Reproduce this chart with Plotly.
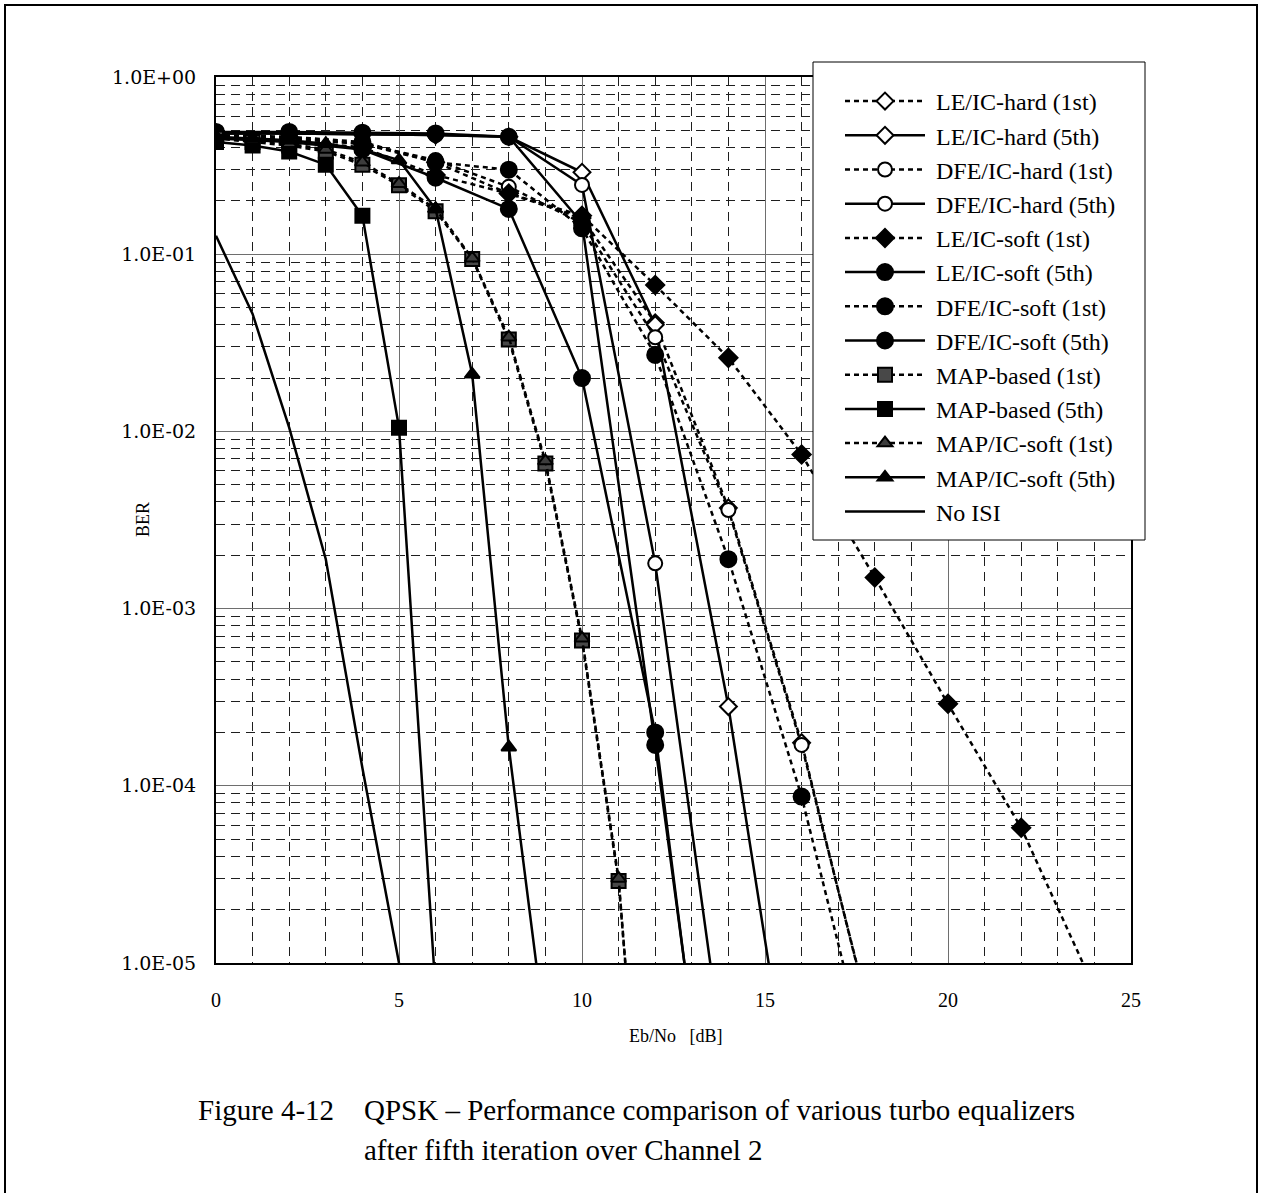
import plotly.graph_objects as go

# ---------------- BER data (QPSK, Channel 2) ----------------
# Eb/No grids in dB
eq_snr_18 = [0, 2, 4, 6, 8, 10, 12, 14, 16, 18]
eq_snr_16 = [0, 2, 4, 6, 8, 10, 12, 14, 16]
eq_snr_14 = [0, 2, 4, 6, 8, 10, 12, 14]
eq_snr_24 = [0, 2, 4, 6, 8, 10, 12, 14, 16, 18, 20, 22, 24]
map_snr_12 = [0, 1, 2, 3, 4, 5, 6, 7, 8, 9, 10, 11, 12]
map_snr_9 = [0, 1, 2, 3, 4, 5, 6, 7, 8, 9]
map_snr_6 = [0, 1, 2, 3, 4, 5, 6]
no_isi_snr = [0, 1, 2, 3, 4, 5]

le_hard_1st = [0.46, 0.45, 0.42, 0.33, 0.22, 0.16, 0.041, 0.0037, 1.75e-4, 3.8e-6]
le_hard_5th = [0.48, 0.48, 0.475, 0.47, 0.46, 0.29, 0.040, 2.8e-4, 6.5e-7]
dfe_hard_1st = [0.46, 0.45, 0.42, 0.34, 0.24, 0.15, 0.034, 0.0036, 1.7e-4, 3.9e-6]
dfe_hard_5th = [0.48, 0.48, 0.475, 0.47, 0.46, 0.246, 0.0018, 1.8e-6]
le_soft_1st = [0.46, 0.44, 0.40, 0.28, 0.22, 0.165, 0.067, 0.026, 0.0074,
               0.0015, 2.9e-4, 5.8e-5, 7.2e-6]
le_soft_5th = [0.49, 0.49, 0.485, 0.48, 0.46, 0.15, 1.7e-4, 1.4e-7]
dfe_soft_1st = [0.47, 0.46, 0.43, 0.33, 0.30, 0.14, 0.027, 0.0019, 8.7e-5, 1.9e-6]
dfe_soft_5th = [0.45, 0.43, 0.39, 0.27, 0.18, 0.020, 2.0e-4, 1.1e-7]
map_based_1st = [0.45, 0.43, 0.41, 0.38, 0.32, 0.245, 0.175, 0.094, 0.033,
                 0.0066, 6.6e-4, 2.9e-5, 8e-8]
map_based_5th = [0.43, 0.41, 0.38, 0.32, 0.165, 0.0105, 6.9e-6]
map_ic_soft_1st = [0.46, 0.44, 0.42, 0.39, 0.33, 0.25, 0.18, 0.095, 0.034,
                   0.0068, 6.8e-4, 3.0e-5, 8e-8]
map_ic_soft_5th = [0.46, 0.45, 0.44, 0.42, 0.39, 0.34, 0.18, 0.021, 1.65e-4, 3.9e-6]
no_isi = [0.127, 0.046, 0.0105, 0.0019, 1.26e-4, 1.0e-5]

# axis labelling
y_tick_vals = [1, 0.1, 0.01, 0.001, 0.0001, 0.00001]
y_tick_text = ["1.0E+00", "1.0E-01", "1.0E-02", "1.0E-03", "1.0E-04", "1.0E-05"]
x_tick_vals = [0, 5, 10, 15, 20, 25]

SERIF = "Liberation Serif, Times New Roman, serif"
DOT = "5px,4px"
PAD = "\u00a0"

# (name, x, y, dash, symbol, fill, size)
series = [
    ("LE/IC-hard (1st)", eq_snr_18, le_hard_1st, DOT, "diamond", "white", 13),
    ("LE/IC-hard (5th)", eq_snr_16, le_hard_5th, "solid", "diamond", "white", 13),
    ("DFE/IC-hard (1st)", eq_snr_18, dfe_hard_1st, DOT, "circle", "white", 14),
    ("DFE/IC-hard (5th)", eq_snr_14, dfe_hard_5th, "solid", "circle", "white", 14),
    ("LE/IC-soft (1st)", eq_snr_24, le_soft_1st, DOT, "diamond", "black", 14),
    ("LE/IC-soft (5th)", eq_snr_14, le_soft_5th, "solid", "circle", "black", 16),
    ("DFE/IC-soft (1st)", eq_snr_18, dfe_soft_1st, DOT, "circle", "black", 16),
    ("DFE/IC-soft (5th)", eq_snr_14, dfe_soft_5th, "solid", "circle", "black", 16),
    ("MAP-based (1st)", map_snr_12, map_based_1st, DOT, "square", "#484848", 14),
    ("MAP-based (5th)", map_snr_6, map_based_5th, "solid", "square", "black", 14),
    ("MAP/IC-soft (1st)", map_snr_12, map_ic_soft_1st, DOT, "triangle-up", "#3c3c3c", 13),
    ("MAP/IC-soft (5th)", map_snr_9, map_ic_soft_5th, "solid", "triangle-up", "black", 13),
]

fig = go.Figure()
for name, xs, ys, dash, sym, fill, size in series:
    fig.add_trace(go.Scatter(
        x=xs, y=ys, name=PAD + name, mode="lines+markers",
        line=dict(color="black", width=2.5, dash=dash),
        marker=dict(symbol=sym, size=size, color=fill,
                    line=dict(color="black", width=2)),
    ))
fig.add_trace(go.Scatter(
    x=no_isi_snr, y=no_isi, name=PAD + "No ISI", mode="lines",
    line=dict(color="black", width=2.5),
))

minor_y = [m * 10.0 ** e for e in range(-5, 0) for m in range(2, 10)]

fig.update_xaxes(
    range=[0, 25], tickvals=x_tick_vals, ticks="", ticklabelstandoff=18,
    tickfont=dict(family=SERIF, size=20, color="black"),
    showgrid=True, gridcolor="#6e6e6e", gridwidth=1,
    minor=dict(dtick=1, showgrid=True, gridcolor="#1e1e1e", gridwidth=1,
               griddash="9px,6px"),
    showline=True, linecolor="black", linewidth=2, mirror=True, zeroline=False,
)
fig.update_yaxes(
    type="log", range=[-5, 0], tickvals=y_tick_vals, ticktext=y_tick_text,
    ticks="", ticklabelstandoff=14,
    tickfont=dict(family="DejaVu Serif, serif", size=19, color="black"),
    showgrid=True, gridcolor="#6e6e6e", gridwidth=1,
    minor=dict(tickvals=minor_y, showgrid=True, gridcolor="#1e1e1e", gridwidth=1,
               griddash="9px,6px"),
    showline=True, linecolor="black", linewidth=2, mirror=True, zeroline=False,
)

W, H = 1263, 1193
L, R, T, B = 216, 1131, 77, 963
pw, ph = R - L, B - T


def px(xp):
    return (xp - L) / pw


def py(yp):
    return (B - yp) / ph


def note(text, x, y, size, xanchor="center", angle=0):
    return dict(text=text, xref="paper", yref="paper", x=px(x), y=py(y),
                xanchor=xanchor, yanchor="middle", textangle=angle,
                showarrow=False, font=dict(family=SERIF, size=size, color="black"))


fig.update_layout(
    width=W, height=H,
    margin=dict(l=L, r=W - R, t=T, b=H - B, pad=0),
    paper_bgcolor="white", plot_bgcolor="white",
    font=dict(family=SERIF, color="black"),
    showlegend=True,
    legend=dict(
        x=px(840), y=py(79), xanchor="left", yanchor="top",
        bgcolor="rgba(0,0,0,0)", borderwidth=0,
        font=dict(family=SERIF, size=24, color="black"),
        itemwidth=80, tracegroupgap=0,
    ),
    shapes=[
        # outer figure frame
        dict(type="rect", xref="paper", yref="paper",
             x0=px(5), x1=px(1257), y0=py(1200), y1=py(5),
             line=dict(color="black", width=2), fillcolor="rgba(0,0,0,0)"),
        # legend box
        dict(type="rect", xref="paper", yref="paper", layer="above",
             x0=px(813), x1=px(1145), y0=py(540), y1=py(62),
             line=dict(color="black", width=1), fillcolor="white"),
    ],
    annotations=[
        note("Eb/No\u00a0\u00a0\u00a0[dB]", 676, 1036, 18),
        note("BER", 143, 520, 18, angle=-90),
        note("Figure 4-12", 196, 1110, 29, xanchor="left"),
        note("QPSK \u2013 Performance comparison of various turbo equalizers",
             362, 1110, 29, xanchor="left"),
        note("after fifth iteration over Channel 2", 362, 1150, 29, xanchor="left"),
    ],
)

fig.write_html("out.html")
